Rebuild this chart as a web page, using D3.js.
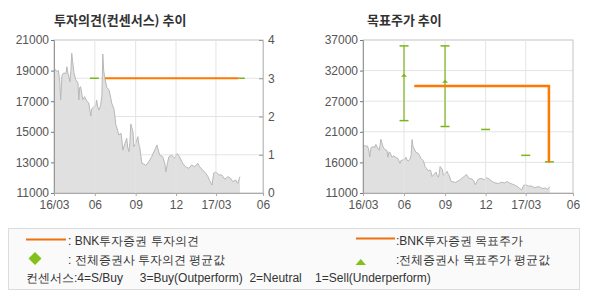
<!DOCTYPE html>
<html>
  <head>
    <meta charset="utf-8">
    <script src="https://d3js.org/d3.v7.min.js"></script>
    <style>
      body { margin: 0; background: #fff; }
      text { font-family: "Liberation Sans", Arial, sans-serif; }
      .kr { font-family: "Noto Sans CJK KR", sans-serif; }
    </style>
  </head>
  <body>
    <svg width="590" height="300"></svg>
    <script>
      // close price
      const priceDates = [
        "2016-03-01","2016-03-03","2016-03-07","2016-03-11","2016-03-14","2016-03-16","2016-03-19","2016-03-23",
        "2016-03-28","2016-03-30","2016-04-01","2016-04-06","2016-04-08","2016-04-10","2016-04-12","2016-04-15",
        "2016-04-19","2016-04-24","2016-04-26","2016-04-28","2016-04-30","2016-05-05","2016-05-09","2016-05-14",
        "2016-05-18","2016-05-23","2016-05-25","2016-05-30","2016-06-03","2016-06-05","2016-06-08","2016-06-10",
        "2016-06-14","2016-06-17","2016-06-19","2016-06-21","2016-06-23","2016-06-28","2016-07-03","2016-07-07",
        "2016-07-09","2016-07-14","2016-07-16","2016-07-18","2016-07-21","2016-07-25","2016-07-30","2016-08-01",
        "2016-08-03","2016-08-08","2016-08-12","2016-08-14","2016-08-17","2016-08-19","2016-08-21","2016-08-23",
        "2016-08-26","2016-08-28","2016-09-01","2016-09-06","2016-09-08","2016-09-10","2016-09-13","2016-09-15",
        "2016-09-19","2016-09-24","2016-09-28","2016-10-03","2016-10-07","2016-10-14","2016-10-19","2016-10-23",
        "2016-10-25","2016-11-01","2016-11-06","2016-11-08","2016-11-12","2016-11-15","2016-11-21","2016-11-28",
        "2016-12-03","2016-12-09","2016-12-16","2016-12-22","2016-12-30","2017-01-05","2017-01-12","2017-01-19",
        "2017-01-23","2017-01-30","2017-02-06","2017-02-11","2017-02-15","2017-02-20","2017-02-24","2017-03-01",
        "2017-03-07","2017-03-14","2017-03-21","2017-03-28","2017-04-03","2017-04-08","2017-04-14","2017-04-19",
        "2017-04-24"
      ];
      const prices = [
        18900,19100,18950,19000,18300,17100,18700,18850,
        18800,19250,18900,18270,19000,20130,19600,18850,
        18400,18190,17080,17900,17950,17100,17300,17000,
        16900,16030,16500,16640,16700,17080,16600,16420,
        16700,17400,20080,19000,18600,17900,17730,17200,
        16880,16500,16100,15500,15230,14790,14900,14460,
        13800,14250,14570,14000,13700,14300,15510,15300,
        15000,14030,14250,14680,14200,14030,13370,12940,
        12900,12800,12950,13160,13370,13810,14140,13700,
        13480,13370,12900,12390,13000,13370,13480,13270,
        13590,13370,12940,12720,12610,12830,12720,12940,
        12720,12500,12290,12070,11800,11520,12300,12390,
        12180,12180,11900,12070,11960,11740,11850,11630,
        12070
      ];

      const tickDates = ["2016-03-01","2016-06-01","2016-09-01","2016-12-01","2017-03-01","2017-06-15"];
      const tickLabels = ["16/03","06","09","12","17/03","06"];

      const priceTicks = [11000, 13000, 15000, 17000, 19000, 21000];
      const ratingTicks = [0, 1, 2, 3, 4];
      const targetTickLabels = ["11000","16000","21000","27000","32000","37000"];

      // BNK rating and consensus rating (3 = Buy)
      const bnkRating = [{start: "2016-06-24", end: "2017-04-21", value: 3}];
      const consRating = [
        {start: "2016-05-21", end: "2016-06-10", value: 3},
        {start: "2017-04-21", end: "2017-05-05", value: 3}
      ];

      // BNK target price
      const targetDates = ["2016-06-24", "2017-04-22"];
      const targetValues = [29200, 16200];

      // consensus target price
      const consDates = ["2016-06-01","2016-09-01","2016-12-01","2017-03-01","2017-04-23"];
      const consAvg = [31000, 30000, 21800, 17400, 16300];
      const consHigh = [36000, 36000, 21800, 17400, 16300];
      const consLow = [23300, 22300, 21800, 17400, 16300];

      const parse = d3.timeParse("%Y-%m-%d");
      const orange = "#ff7800";
      const green = "#7cb51a";
      const svg = d3.select("svg");

      const priceData = priceDates.map((d, i) => ({date: parse(d), value: prices[i]}));
      const ticks = tickDates.map(parse);

      function frame(g, x, y, x0, x1, y0, y1) {
        g.append("rect").attr("x", x0).attr("y", y0)
          .attr("width", x1 - x0).attr("height", y1 - y0)
          .attr("fill", "none").attr("stroke", "#c4c4c4");
        g.append("g").selectAll("line").data(ticks.slice(1, -1)).join("line")
          .attr("x1", d => x(d)).attr("x2", d => x(d))
          .attr("y1", y0).attr("y2", y1)
          .attr("stroke", "#e4e4e4");
      }

      function bottomAxis(g, x, y1) {
        const ax = d3.axisBottom(x).tickValues(ticks)
          .tickFormat((d, i) => tickLabels[i]).tickSize(3).tickPadding(4);
        const a = g.append("g").attr("transform", `translate(0,${y1})`).call(ax);
        a.select(".domain").attr("stroke", "#aaa");
        a.selectAll(".tick line").attr("stroke", "#aaa");
        a.selectAll("text").attr("fill", "#555").style("font-size", "12px");
      }

      function area(g, x, y, y1) {
        g.append("path").datum(priceData)
          .attr("fill", "#e0e0e0")
          .attr("d", d3.area().x(d => x(d.date)).y0(y1).y1(d => y(d.value)));
        g.append("path").datum(priceData)
          .attr("fill", "none").attr("stroke", "#b8b8b8").attr("stroke-width", 1)
          .attr("d", d3.line().x(d => x(d.date)).y(d => y(d.value)));
      }

      // ---------- left: rating chart ----------
      {
        const x0 = 54, x1 = 263, y0 = 40, y1 = 193;
        const g = svg.append("g");
        const x = d3.scaleTime().domain([ticks[0], ticks[5]]).range([x0, x1]);
        const y = d3.scaleLinear().domain([11000, 21000]).range([y1, y0]);
        const r = d3.scaleLinear().domain([0, 4]).range([y1, y0]);

        g.append("text").attr("class", "kr").attr("x", 54).attr("y", 25)
          .attr("font-size", 13).attr("font-weight", "bold").attr("fill", "#333")
          .text("투자의견(컨센서스) 추이");

        g.append("g").selectAll("line").data(ratingTicks.slice(1, -1)).join("line")
          .attr("x1", x0).attr("x2", x1).attr("y1", d => r(d)).attr("y2", d => r(d))
          .attr("stroke", "#e4e4e4");
        area(g, x, y, y1);
        frame(g, x, y, x0, x1, y0, y1);

        const la = g.append("g").attr("transform", `translate(${x0},0)`)
          .call(d3.axisLeft(y).tickValues(priceTicks).tickFormat(d3.format("d")).tickSize(3).tickPadding(2));
        la.select(".domain").attr("stroke", "#999");
        la.selectAll(".tick line").attr("stroke", "#777");
        la.selectAll("text").attr("fill", "#555").style("font-size", "12px");

        const ra = g.append("g").attr("transform", `translate(${x1},0)`)
          .call(d3.axisRight(r).tickValues(ratingTicks).tickFormat(d3.format("d"))
            .tickSizeInner(-4).tickSizeOuter(0).tickPadding(5));
        ra.select(".domain").attr("stroke", "#c4c4c4");
        ra.selectAll(".tick line").attr("stroke", "#999");
        ra.selectAll("text").attr("fill", "#555").style("font-size", "12px");

        bottomAxis(g, x, y1);

        g.append("g").selectAll("line").data(consRating).join("line")
          .attr("x1", d => x(parse(d.start))).attr("x2", d => x(parse(d.end)))
          .attr("y1", d => r(d.value)).attr("y2", d => r(d.value))
          .attr("stroke", green).attr("stroke-width", 1.5);
        g.append("g").selectAll("line").data(bnkRating).join("line")
          .attr("x1", d => x(parse(d.start))).attr("x2", d => x(parse(d.end)))
          .attr("y1", d => r(d.value)).attr("y2", d => r(d.value))
          .attr("stroke", orange).attr("stroke-width", 2);
      }

      // ---------- right: target price chart ----------
      {
        const x0 = 363, x1 = 573, y0 = 40, y1 = 193;
        const g = svg.append("g");
        const x = d3.scaleTime().domain([ticks[0], ticks[5]]).range([x0, x1]);
        const y = d3.scaleLinear().domain([11000, 37000]).range([y1, y0]);
        const yTicks = d3.range(6).map(i => 11000 + i * 5200);

        g.append("text").attr("class", "kr").attr("x", 367).attr("y", 25)
          .attr("font-size", 13).attr("font-weight", "bold").attr("fill", "#333")
          .text("목표주가 추이");

        g.append("g").selectAll("line").data(yTicks.slice(1, -1)).join("line")
          .attr("x1", x0).attr("x2", x1).attr("y1", d => y(d)).attr("y2", d => y(d))
          .attr("stroke", "#e4e4e4");
        area(g, x, y, y1);
        frame(g, x, y, x0, x1, y0, y1);

        const la = g.append("g").attr("transform", `translate(${x0},0)`)
          .call(d3.axisLeft(y).tickValues(yTicks).tickFormat((d, i) => targetTickLabels[i]).tickSize(3).tickPadding(2));
        la.select(".domain").attr("stroke", "#999");
        la.selectAll(".tick line").attr("stroke", "#777");
        la.selectAll("text").attr("fill", "#555").style("font-size", "12px");

        bottomAxis(g, x, y1);

        // consensus range bars
        const cons = consDates.map((d, i) => ({date: parse(d), avg: consAvg[i], hi: consHigh[i], lo: consLow[i]}));
        const cg = g.append("g").attr("stroke", green).attr("fill", green);
        cg.selectAll(".rng").data(cons.filter(d => d.hi > d.lo)).join("line")
          .attr("x1", d => x(d.date)).attr("x2", d => x(d.date))
          .attr("y1", d => y(d.hi)).attr("y2", d => y(d.lo)).attr("stroke-width", 1.2);
        cg.selectAll(".hi").data(cons).join("line")
          .attr("x1", d => x(d.date) - 4.5).attr("x2", d => x(d.date) + 4.5)
          .attr("y1", d => y(d.hi)).attr("y2", d => y(d.hi)).attr("stroke-width", 1.5);
        cg.selectAll(".lo").data(cons.filter(d => d.hi > d.lo)).join("line")
          .attr("x1", d => x(d.date) - 4.5).attr("x2", d => x(d.date) + 4.5)
          .attr("y1", d => y(d.lo)).attr("y2", d => y(d.lo)).attr("stroke-width", 1.5);
        cg.selectAll("path").data(cons.filter(d => d.hi > d.lo)).join("path")
          .attr("stroke", "none")
          .attr("d", d => `M${x(d.date) - 3},${y(d.avg) + 1.5}L${x(d.date) + 3},${y(d.avg) + 1.5}L${x(d.date)},${y(d.avg) - 1.5}Z`);

        // BNK target price step line
        const target = targetDates.map((d, i) => ({date: parse(d), value: targetValues[i]}));
        g.append("path").datum(target)
          .attr("fill", "none").attr("stroke", orange).attr("stroke-width", 2.5)
          .attr("d", d3.line().curve(d3.curveStepAfter).x(d => x(d.date)).y(d => y(d.value)));
      }

      // ---------- legend ----------
      {
        const g = svg.append("g");
        g.append("rect").attr("x", 8.5).attr("y", 228.5).attr("width", 571).attr("height", 61)
          .attr("fill", "#fafafa").attr("stroke", "#dcdcdc");
        g.append("line").attr("x1", 26).attr("x2", 66).attr("y1", 239.5).attr("y2", 239.5)
          .attr("stroke", "#ee7010").attr("stroke-width", 2);
        g.append("path").attr("fill", "#82c01a")
          .attr("d", "M35,252L41.5,258.5L35,265L28.5,258.5Z");
        g.append("line").attr("x1", 356).attr("x2", 395).attr("y1", 238.5).attr("y2", 238.5)
          .attr("stroke", "#ee7010").attr("stroke-width", 2);
        g.append("path").attr("fill", "#82c01a")
          .attr("d", "M355.5,265L366,265L360.75,259Z");
        const t = g.append("g").attr("class", "kr").attr("font-size", 12).attr("fill", "#333");
        t.append("text").attr("x", 68).attr("y", 245).text(": BNK투자증권 투자의견");
        t.append("text").attr("x", 68).attr("y", 264).text(": 전체증권사 투자의견 평균값");
        t.append("text").attr("x", 396).attr("y", 245).text(":BNK투자증권 목표주가");
        t.append("text").attr("x", 396).attr("y", 264).text(":전체증권사 목표주가 평균값");
        t.append("text").attr("x", 26).attr("y", 282).style("white-space", "pre")
          .text("컨센서스:4=S/Buy     3=Buy(Outperform)  2=Neutral    1=Sell(Underperform)");
      }
    </script>
  </body>
</html>
